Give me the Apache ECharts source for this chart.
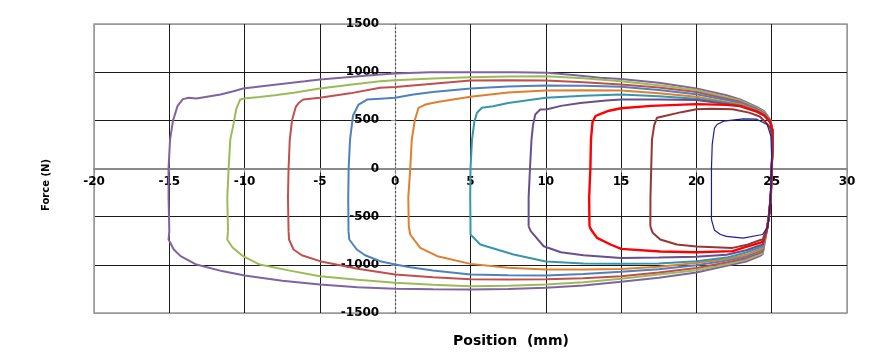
<!DOCTYPE html>
<html>
<head>
<meta charset="utf-8">
<script src="https://cdn.jsdelivr.net/npm/echarts@6/dist/echarts.min.js"></script>
<style>html,body{margin:0;padding:0;background:#fff;}#c{width:878px;height:354px;}</style>
</head>
<body>
<div id="c"></div>
<script>
// Axis ranges / ticks
var xTicks = [-20, -15, -10, -5, 0, 5, 10, 15, 20, 25, 30];
var yTicks = [-1500, -1000, -500, 0, 500, 1000, 1500];

// Hysteresis loops: [position (mm), force (N)]
var loop1 = [[-15.0,-650],[-15.05,-300],[-15.05,0],[-14.95,300],[-14.75,500],[-14.45,650],[-14.1,720],[-13.7,734],[-13.2,726],[-12.5,745],[-11.6,768],[-10.8,800],[-10.1,830],[-8,870],[-6,905],[-5,924],[-3,950],[-1,975],[0,986],[2.3,998],[5,1000],[8,998],[10.1,993],[12,968],[13.6,942],[15,930],[17.5,890],[20,830],[22,760],[22.9,716],[24,640],[24.5,595],[24.9,509],[25.05,400],[25.05,200],[25.0,0],[24.95,-250],[24.85,-450],[24.7,-620],[24.4,-890],[24.2,-910],[23.3,-965],[22,-1010],[20,-1080],[17.5,-1135],[15,-1175],[12.5,-1215],[10,-1238],[7.5,-1250],[5,-1256],[2.5,-1253],[0,-1249],[-2.5,-1232],[-5,-1205],[-7.5,-1165],[-10,-1111],[-11.5,-1065],[-13.2,-997],[-14.25,-910],[-14.7,-840],[-15.05,-737],[-15.0,-650]];
var loop2 = [[-11.1,-650],[-11.15,-300],[-11.06,0],[-10.95,300],[-10.75,450],[-10.55,620],[-10.3,716],[-9.9,730],[-9,742],[-8,760],[-6.75,786],[-5,830],[-3,870],[-1,905],[0,917],[2.5,935],[5,948],[7.5,955],[10,958],[12.5,938],[15,906],[17.5,865],[20,815],[22,740],[22.9,705],[24,630],[24.5,585],[24.9,505],[25.05,400],[25.05,200],[25.0,0],[24.95,-250],[24.85,-450],[24.7,-620],[24.4,-880],[24.2,-893],[23.3,-948],[22,-995],[20,-1056],[17.5,-1100],[15,-1145],[12.5,-1180],[10,-1205],[7.5,-1218],[5,-1222],[2.5,-1208],[0,-1187],[-2.5,-1155],[-5,-1118],[-7,-1060],[-9,-997],[-10.1,-910],[-10.8,-820],[-11.15,-737],[-11.1,-650]];
var loop3 = [[-7.08,-650],[-7.12,-300],[-7.08,0],[-7.0,300],[-6.85,500],[-6.6,640],[-6.4,682],[-6.1,716],[-5,734],[-3,780],[-1,838],[0,846],[2.5,880],[5,913],[7.5,915],[10,913],[12.5,895],[15,872],[17.5,840],[20,795],[22,725],[22.9,692],[24,620],[24.5,575],[24.9,500],[25.05,400],[25.05,200],[25.0,0],[24.95,-250],[24.85,-450],[24.7,-620],[24.4,-862],[24.2,-876],[23.3,-931],[22,-975],[20,-1033],[17.5,-1080],[15,-1118],[12.5,-1140],[10,-1150],[7.5,-1152],[5,-1150],[2.5,-1130],[0,-1100],[-2.5,-1040],[-5,-962],[-6.2,-900],[-6.75,-841],[-7.05,-737],[-7.08,-650]];
var loop4 = [[-3.1,-650],[-3.12,-300],[-3.09,0],[-3.0,300],[-2.8,550],[-2.43,664],[-1.87,716],[-1,725],[0,734],[1.2,768],[2.5,795],[5,830],[7.5,850],[10,862],[12.5,858],[15,848],[17.5,815],[20,770],[22,712],[22.9,680],[24,615],[24.5,570],[24.9,500],[25.05,400],[25.05,200],[25.0,0],[24.95,-250],[24.85,-450],[24.7,-620],[24.4,-845],[24.2,-858],[23.3,-914],[22,-955],[20,-1005],[17.5,-1045],[15,-1073],[12.5,-1095],[10,-1111],[7.5,-1108],[5,-1100],[2.5,-1060],[1,-1025],[0,-997],[-1,-962],[-2,-900],[-2.55,-841],[-3.05,-737],[-3.1,-650]];
var loop5 = [[0.9,-600],[0.87,-300],[1.0,0],[1.1,300],[1.3,500],[1.55,630],[2.0,664],[2.8,690],[5,744],[7.5,790],[10,810],[12.5,812],[15,810],[17.5,780],[20,745],[22,690],[22.9,668],[24,605],[24.5,565],[24.9,500],[25.05,400],[25.05,200],[25.0,0],[24.95,-250],[24.85,-450],[24.7,-620],[24.4,-828],[24.2,-841],[23.3,-896],[22,-940],[20,-980],[17.5,-1020],[15,-1042],[12.5,-1048],[10,-1049],[7.5,-1030],[5,-990],[2.8,-910],[1.66,-824],[1.0,-685],[0.9,-600]];
var loop6 = [[5.0,-600],[4.98,-300],[5.0,0],[5.1,300],[5.25,480],[5.43,578],[5.76,630],[6.5,647],[7.5,680],[10,734],[12.5,755],[15,768],[17.5,750],[20,725],[22,680],[22.9,657],[24,600],[24.5,560],[24.9,495],[25.05,400],[25.05,200],[25.0,0],[24.95,-250],[24.85,-450],[24.7,-620],[24.4,-808],[24.2,-820],[23.3,-872],[22,-925],[20,-962],[17.5,-985],[15,-990],[12.5,-985],[10,-965],[7.86,-893],[5.65,-789],[5.0,-685],[5.0,-600]];
var loop7 = [[8.86,-600],[8.86,-300],[8.95,0],[9.05,300],[9.15,450],[9.3,561],[9.63,613],[10.1,615],[11,650],[12.3,681],[14,705],[15,716],[17.5,716],[20,712],[22,670],[22.9,650],[24,595],[24.5,555],[24.9,490],[25.05,400],[25.05,200],[25.0,0],[24.95,-250],[24.85,-450],[24.7,-620],[24.4,-790],[24.2,-800],[23.3,-848],[22,-895],[20,-917],[17.5,-925],[15,-930],[12.5,-900],[11,-870],[9.86,-807],[9.0,-651],[8.86,-600]];
var loop8 = [[12.9,-600],[12.88,-300],[12.96,0],[13.0,300],[13.1,480],[13.3,545],[13.6,565],[14.2,600],[15,625],[17,650],[20,668],[22,660],[22.9,647],[24,590],[24.5,550],[24.9,480],[25.05,380],[25.05,200],[25.0,0],[24.95,-250],[24.85,-450],[24.7,-620],[24.4,-762],[24.2,-772],[23.3,-813],[22.4,-858],[20,-870],[17.6,-862],[15,-834],[14.3,-789],[13.4,-720],[13.0,-633],[12.9,-600]];
var loop9 = [[16.94,-600],[16.95,-300],[17.0,0],[17.05,300],[17.2,450],[17.38,526],[17.82,543],[19,585],[20,615],[21,620],[22.4,615],[23.5,580],[24.2,540],[24.6,480],[24.9,423],[25.0,350],[25.05,200],[25.0,0],[24.95,-250],[24.85,-450],[24.7,-620],[24.4,-738],[24.2,-745],[23.3,-795],[22.4,-824],[20,-810],[18.7,-789],[17.6,-737],[17.1,-668],[16.94,-600]];
var loop10 = [[21.0,-530],[21.0,-300],[21.0,0],[21.05,250],[21.2,420],[21.37,457],[21.8,491],[23.13,516],[24,512],[24.7,457],[24.95,335],[25.0,100],[24.95,-200],[24.85,-450],[24.75,-600],[24.4,-685],[24.2,-690],[23.1,-722],[22,-705],[21.6,-685],[21.2,-640],[21.0,-530]];

var loops = [loop1, loop2, loop3, loop4, loop5, loop6, loop7, loop8, loop9, loop10];
var colors = ['#8064A2', '#9BBB59', '#C0504D', '#4F81BD', '#E07F2E', '#3796AC', '#68508F', '#FF0000', '#953735', '#1C1C96'];
var widths = [2, 2, 2, 2, 2, 2, 2, 2.4, 2, 1.2];

var gridBox = {left: 94, right: 31, top: 24, bottom: 41};
var W = 878, H = 354;

var chart = echarts.init(document.getElementById('c'), null, {renderer: 'canvas'});
var labelFont = {color: '#000', fontWeight: 'bold', fontSize: 12, fontFamily: 'DejaVu Sans',
  formatter: function (v) { return String(v); }};

var xSplitColors = xTicks.map(function (v, i) {
  if (v === 0) return 'rgba(0,0,0,0)';
  if (i === 0 || i === xTicks.length - 1) return '#999';
  return '#1a1a1a';
});
var ySplitColors = yTicks.map(function (v, i) {
  if (v === 0) return 'rgba(0,0,0,0)';
  if (i === 0 || i === yTicks.length - 1) return '#999';
  return '#1a1a1a';
});

function buildOption(xOff, yOff) {
  return {
    animation: false,
    grid: {left: gridBox.left, right: gridBox.right, top: gridBox.top, bottom: gridBox.bottom,
           show: true, borderColor: '#999', borderWidth: 1.5},
    xAxis: {
      type: 'value', min: xTicks[0], max: xTicks[xTicks.length - 1], interval: 5,
      position: 'bottom', offset: xOff,
      axisLine: {show: true, onZero: false, lineStyle: {color: '#8a8a8a', width: 2}},
      axisTick: {show: true, length: 4, lineStyle: {color: '#8a8a8a'}},
      axisLabel: Object.assign({margin: 7}, labelFont),
      splitLine: {show: true, lineStyle: {color: xSplitColors, width: 1}}
    },
    yAxis: {
      type: 'value', min: yTicks[0], max: yTicks[yTicks.length - 1], interval: 500,
      position: 'left', offset: yOff,
      axisLine: {show: true, onZero: false, lineStyle: {color: '#555', width: 1.2, type: [2, 2]}},
      axisTick: {show: true, length: 4, lineStyle: {color: '#8a8a8a'}},
      axisLabel: Object.assign({margin: 16}, labelFont),
      splitLine: {show: true, lineStyle: {color: ySplitColors, width: 1}}
    },
    graphic: [
      {type: 'text', x: 46, y: 185, rotation: Math.PI / 2,
       style: {text: 'Force (N)', fill: '#000', font: 'bold 10px "DejaVu Sans"', textAlign: 'center', textVerticalAlign: 'middle'}},
      {type: 'text', x: 511, y: 341,
       style: {text: 'Position  (mm)', fill: '#000', font: 'bold 14px "DejaVu Sans"', textAlign: 'center', textVerticalAlign: 'middle'}}
    ],
    series: loops.map(function (d, i) {
      return {
        type: 'line', data: d, showSymbol: false, symbol: 'none', smooth: false,
        lineStyle: {color: colors[i], width: widths[i]}, z: 3 + i
      };
    })
  };
}

chart.setOption(buildOption(0, 0));
// Move the axes (line + labels) so they cross at the origin, like the original chart
var origin = chart.convertToPixel({gridIndex: 0}, [0, 0]);
var yOffset = -(origin[0] - gridBox.left);
var xOffset = -((H - gridBox.bottom) - origin[1]);
chart.setOption(buildOption(xOffset, yOffset));
</script>
</body>
</html>
